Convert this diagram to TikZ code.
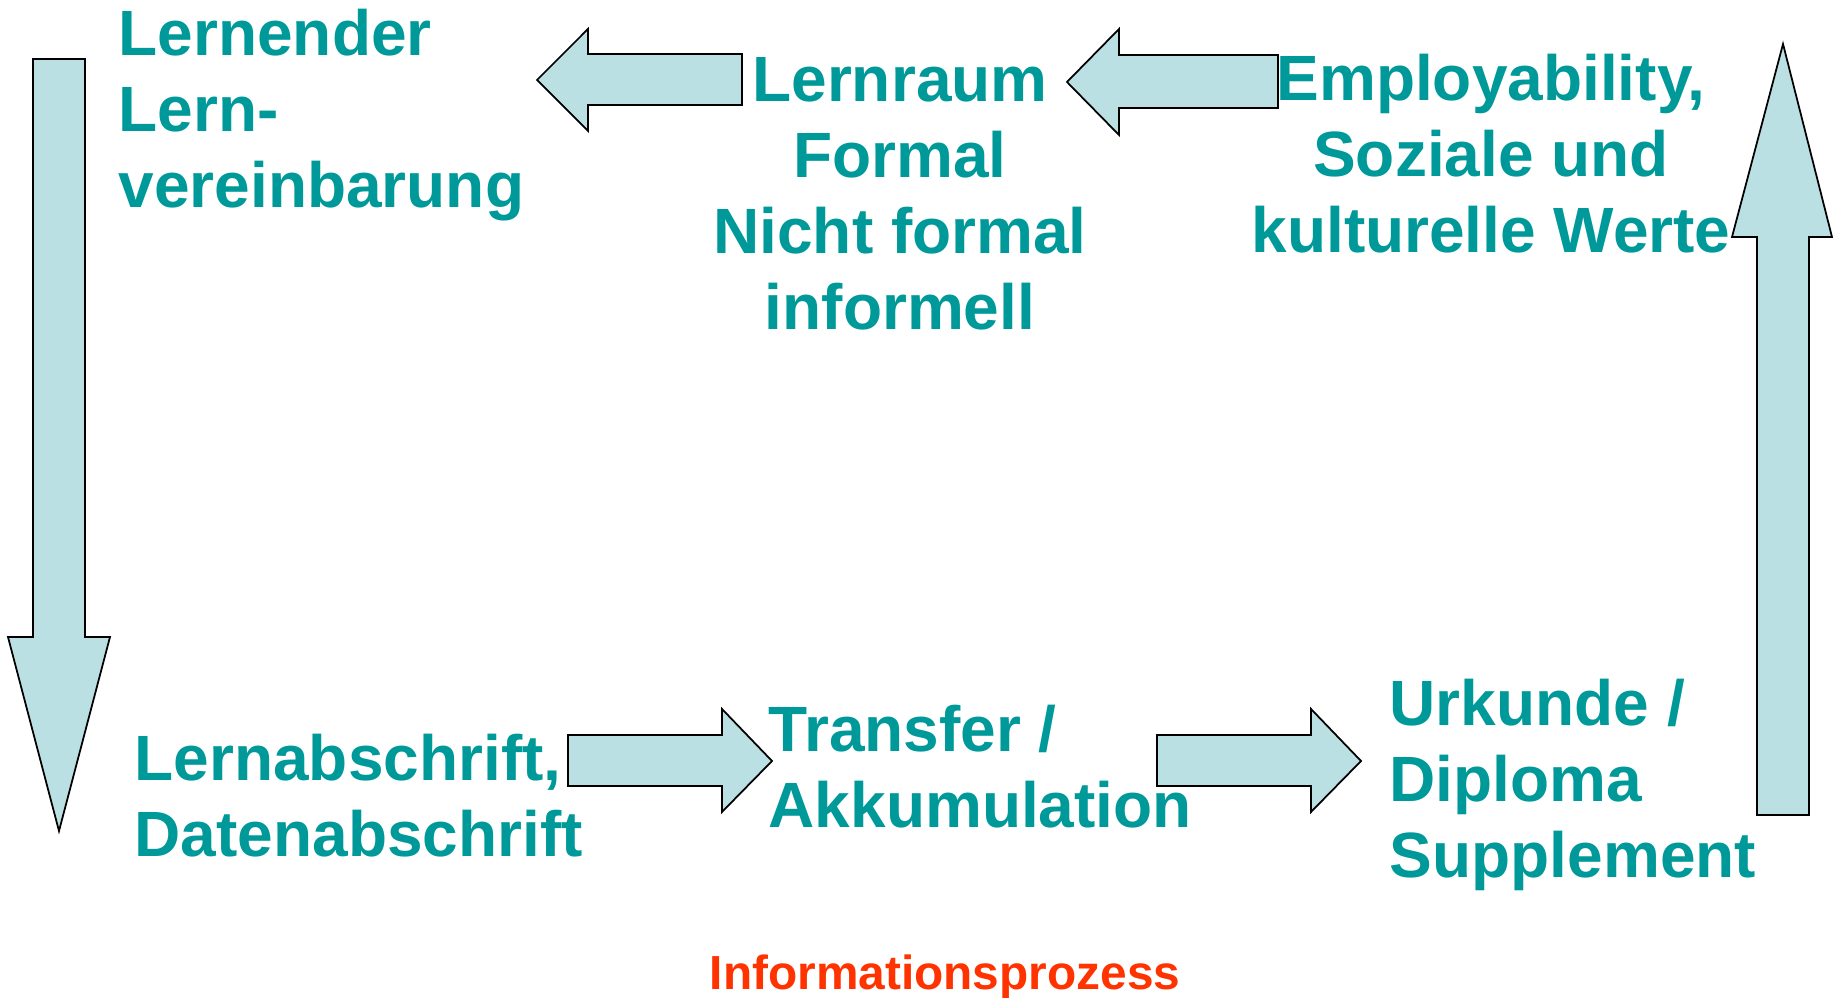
\documentclass[tikz,border=0pt]{standalone}
\usepackage{fontspec}
\setmainfont{Liberation Sans}
\usepackage{tikz}
\usetikzlibrary{positioning}
\definecolor{tealtext}{HTML}{009999}
\definecolor{arrowfill}{HTML}{BBE0E3}
\definecolor{redtext}{HTML}{FF3300}

\begin{document}
\begin{tikzpicture}[x=0.01cm, y=-0.01cm,
  label node/.style={inner sep=0pt, text=tealtext, font=\bfseries\fontsize{18.2}{21.7}\selectfont},
  note node/.style={inner sep=0pt, text=redtext, font=\bfseries\fontsize{13.6}{16}\selectfont},
  block arrow/.style={draw=black, fill=arrowfill, line width=0.5pt, line join=miter}]

\useasboundingbox (0,0) rectangle (1833,998);

% texts (placed at the baseline of their last line)
\node[label node, anchor=base west, align=left] (learner) at (118,208) {Lernender\\Lern-\\vereinbarung};
\node[label node, anchor=base, align=center] (space) at (900,330) {Lernraum\\Formal\\Nicht formal\\informell};
\node[label node, anchor=base, align=center] (values) at (1491,253) {Employability,\\Soziale und\\kulturelle Werte};
\node[label node, anchor=base west, align=left] (transcript) at (134,857) {Lernabschrift,\\Datenabschrift};
\node[label node, anchor=base west, align=left] (transfer) at (768,828) {Transfer /\\Akkumulation};
\node[label node, anchor=base west, align=left] (diploma) at (1389,878) {Urkunde /\\Diploma\\Supplement};
\node[note node, anchor=base] (process) at (945,990) {Informationsprozess};

% block arrows
\draw[block arrow] (33,59) -- (85,59) -- (85,637) -- (110,637) -- (59,831) -- (8,637) -- (33,637) -- cycle;
\draw[block arrow] (742,54) -- (588,54) -- (588,29) -- (537,80) -- (588,131) -- (588,105) -- (742,105) -- cycle;
\draw[block arrow] (1278,55) -- (1119,55) -- (1119,29) -- (1067,82) -- (1119,135) -- (1119,108) -- (1278,108) -- cycle;
\draw[block arrow] (568,735) -- (722,735) -- (722,709) -- (772,761) -- (722,812) -- (722,786) -- (568,786) -- cycle;
\draw[block arrow] (1157,735) -- (1311,735) -- (1311,709) -- (1361,761) -- (1311,812) -- (1311,786) -- (1157,786) -- cycle;
\draw[block arrow] (1757,815) -- (1757,237) -- (1732,237) -- (1783,44) -- (1832,237) -- (1809,237) -- (1809,815) -- cycle;
\end{tikzpicture}
\end{document}
